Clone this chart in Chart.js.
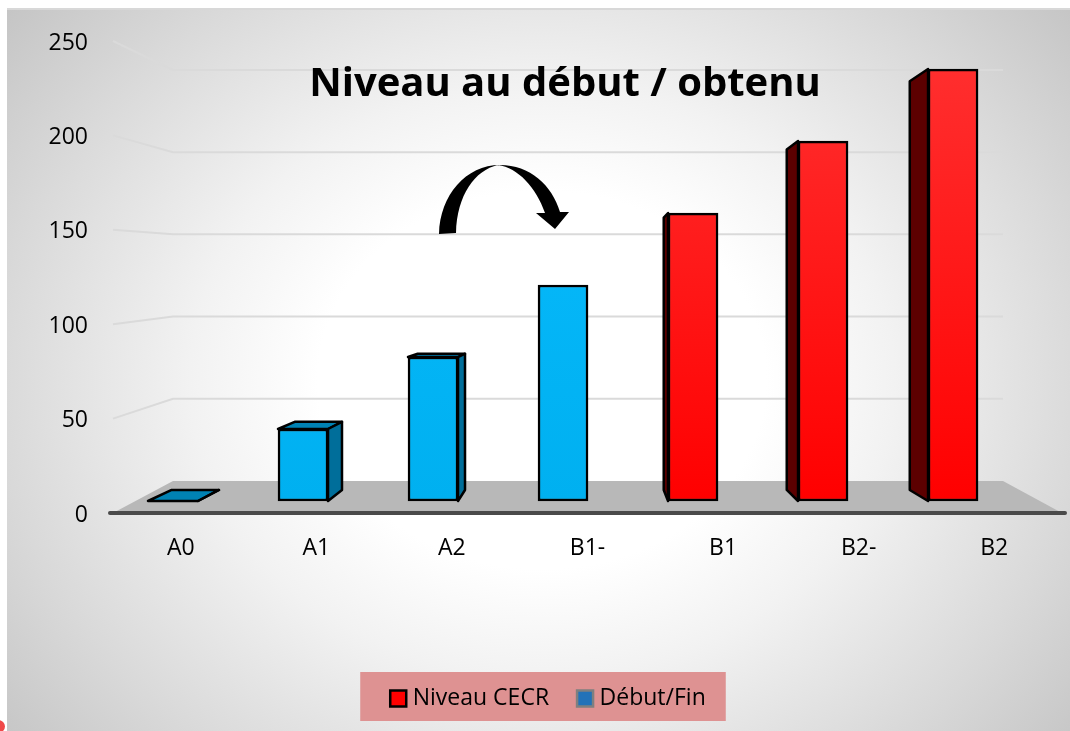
<!DOCTYPE html>
<html>
<head>
<meta charset="utf-8">
<title>Niveau au début / obtenu</title>
<script src="https://cdn.jsdelivr.net/npm/chart.js@4"></script>
<style>
    html, body { margin: 0; padding: 0; background: #fff; overflow: hidden; }
    #panel {
        position: absolute; left: 7px; top: 8px; width: 1063px; height: 723px;
        border-top: 2px solid #d8d8d8;
        box-sizing: border-box;
        background: radial-gradient(ellipse 640px 540px at 535px 370px, #fff 35%, #f2f2f2 55%, #d9d9d9 85%, #bfbfbf 115%);
    }
    #chart { position: absolute; left: 0; top: 0; }
    #dot { position: absolute; left: -8px; top: 720px; width: 13px; height: 13px; border-radius: 50%; background: #f04848; }
</style>
</head>
<body>
<div id="panel"></div>
<div id="dot"></div>
<canvas id="chart" width="1070" height="731"></canvas>
<script>
const categories = ['A0', 'A1', 'A2', 'B1-', 'B1', 'B2-', 'B2'];
const niveauCecr = [null, null, null, null, 160, 200, 240];
const debutFin = [0, 40, 80, 120, null, null, null];
const yTicks = [0, 50, 100, 150, 200, 250];
const chartTitle = 'Niveau au début / obtenu';

// point de fuite de la fausse perspective 3D
const VP_X = 588, VP_Y = 296, DEPTH = 0.0538;

function back(x, y) {
    return [x + (VP_X - x) * DEPTH, y + (VP_Y - y) * DEPTH];
}

function face(ctx, pts, fill) {
    ctx.beginPath();
    pts.forEach((p, i) => i ? ctx.lineTo(p[0], p[1]) : ctx.moveTo(p[0], p[1]));
    ctx.closePath();
    ctx.fillStyle = fill;
    ctx.fill();
    ctx.stroke();
}

// Mur du fond, sol et grille
const wallPlugin = {
    id: 'wall',
    beforeDraw(chart) {
        // fond rose de la légende
        const ctx = chart.ctx;
        const boxes = chart.legend.legendHitBoxes;
        const x0 = boxes[0].left - 35;
        const x1 = boxes[1].left + boxes[1].width + 20;
        ctx.save();
        ctx.fillStyle = '#de9292';
        ctx.fillRect(x0, 672, x1 - x0, 49);
        ctx.restore();
    },
    beforeDatasetsDraw(chart) {
        const { ctx, chartArea, scales } = chart;
        const left = chartArea.left, right = chartArea.right;
        const floorY = scales.y.getPixelForValue(0);
        const backY = scales.yBack.getPixelForValue(0);
        const backL = 173, backR = 1003;

        ctx.save();
        ctx.strokeStyle = '#dadada';
        ctx.lineWidth = 2;
        yTicks.slice(1).forEach(v => {
            const yb = scales.yBack.getPixelForValue(v);
            ctx.beginPath();
            ctx.moveTo(left, scales.y.getPixelForValue(v));
            ctx.lineTo(backL, yb);
            ctx.lineTo(backR, yb);
            ctx.stroke();
        });

        ctx.fillStyle = '#b8b8b8';
        ctx.beginPath();
        ctx.moveTo(left, floorY);
        ctx.lineTo(backL, backY);
        ctx.lineTo(backR, backY);
        ctx.lineTo(right, floorY);
        ctx.closePath();
        ctx.fill();

        ctx.strokeStyle = '#4a4a4a';
        ctx.lineWidth = 4;
        ctx.lineCap = 'round';
        ctx.beginPath();
        ctx.moveTo(left - 3, floorY);
        ctx.lineTo(right + 3, floorY);
        ctx.stroke();

        // Faces latérales et dessus des barres
        ctx.strokeStyle = '#000';
        ctx.lineWidth = 2.5;
        ctx.lineJoin = 'round';
        chart.data.datasets.forEach((ds, d) => {
            chart.getDatasetMeta(d).data.forEach((bar, i) => {
                if (ds.data[i].y === null) return;
                const l = bar.x - bar.width / 2, r = bar.x + bar.width / 2;
                const top = bar.y, base = bar.base;
                if (top > VP_Y) {
                    face(ctx, [[l, top], [r, top], back(r, top), back(l, top)], ds.topColor);
                }
                if (r < VP_X) {
                    face(ctx, [[r, top], back(r, top), back(r, base), [r, base]], ds.sideColor);
                } else if (l > VP_X) {
                    face(ctx, [[l, top], back(l, top), back(l, base), [l, base]], ds.sideColor);
                }
            });
        });
        ctx.restore();
    },
    afterDraw(chart) {
        const { ctx } = chart;
        ctx.save();
        // Titre, posé sur le graphique
        ctx.font = 'bold 40px "Open Sans"';
        ctx.fillStyle = '#000';
        ctx.textAlign = 'center';
        ctx.textBaseline = 'middle';
        ctx.fillText(chartTitle, 565, 85);

        // Flèche courbe
        ctx.beginPath();
        ctx.moveTo(439, 234);
        ctx.bezierCurveTo(440, 195, 466, 165, 500, 165);
        ctx.bezierCurveTo(530, 165, 552, 185, 560, 212);
        ctx.lineTo(569, 212);
        ctx.lineTo(555, 229);
        ctx.lineTo(536, 213);
        ctx.lineTo(545, 213);
        ctx.bezierCurveTo(536, 187, 518, 168, 498, 165);
        ctx.bezierCurveTo(475, 170, 457, 195, 456, 233);
        ctx.closePath();
        ctx.fill();
        ctx.restore();
    }
};

function toPoints(values) {
    return values.map((v, i) => ({ x: i, y: v }));
}

function frontGradient(ctx, topColor, bottomColor) {
    const g = ctx.createLinearGradient(0, 69, 0, 501);
    g.addColorStop(0, topColor);
    g.addColorStop(1, bottomColor);
    return g;
}

const ctx = document.getElementById('chart').getContext('2d');

new Chart(ctx, {
    type: 'bar',
    data: {
        labels: categories,
        datasets: [
            {
                label: 'Niveau CECR',
                data: toPoints(niveauCecr),
                backgroundColor: frontGradient(ctx, '#ff2e2e', '#ff0000'),
                sideColor: '#5c0000',
                topColor: '#a00000',
                borderColor: '#000',
                borderWidth: 2.5,
                borderSkipped: false,
                barThickness: 50,
                grouped: false,
                xAxisID: 'xBar',
                yAxisID: 'yBar'
            },
            {
                label: 'Début/Fin',
                data: toPoints(debutFin),
                backgroundColor: frontGradient(ctx, '#08bcff', '#00b0f0'),
                sideColor: '#006e9a',
                topColor: '#0082b4',
                borderColor: '#000',
                borderWidth: 2.5,
                borderSkipped: false,
                barThickness: 50,
                grouped: false,
                xAxisID: 'xBar',
                yAxisID: 'yBar'
            }
        ]
    },
    options: {
        responsive: false,
        animation: false,
        layout: { padding: { top: 41, left: 39, right: 8, bottom: 11 } },
        scales: {
            x: {
                type: 'category',
                offset: true,
                grid: { display: false },
                border: { display: false },
                ticks: { color: '#000', font: { family: '"Open Sans"', size: 23 }, padding: 14, maxRotation: 0 },
                afterFit(s) { s.height = 141; }
            },
            // axe caché : plan avant des barres, 130 px entre deux barres
            xBar: { type: 'linear', display: false, min: -0.4615, max: 6.838, offset: false },
            y: {
                min: 0,
                max: 250,
                afterBuildTicks(s) { s.ticks = yTicks.map(v => ({ value: v })); },
                grid: { display: false },
                border: { display: false },
                ticks: { color: '#000', font: { family: '"Open Sans"', size: 23 }, padding: 17, labelOffset: 2 },
                afterFit(s) { s.width = 74; }
            },
            // axes cachés : même valeurs, mais à la profondeur des barres et du mur du fond
            yBar: { display: false, min: -6.67, max: 255.6 },
            yBack: { display: false, min: -19.46, max: 267.6 }
        },
        plugins: {
            title: { display: false },
            tooltip: { enabled: false },
            legend: {
                position: 'bottom',
                labels: {
                    color: '#000',
                    font: { family: '"Open Sans"', size: 23 },
                    usePointStyle: true,
                    pointStyle: 'rect',
                    boxWidth: 6,
                    boxHeight: 16,
                    padding: 33,
                    generateLabels(chart) {
                        const items = Chart.defaults.plugins.legend.labels.generateLabels(chart);
                        items[0].fillStyle = '#ff0000';
                        items[0].strokeStyle = '#000';
                        items[1].fillStyle = '#2272b8';
                        items[1].strokeStyle = '#7f7f7f';
                        return items;
                    }
                }
            }
        }
    },
    plugins: [wallPlugin]
});
</script>
</body>
</html>
